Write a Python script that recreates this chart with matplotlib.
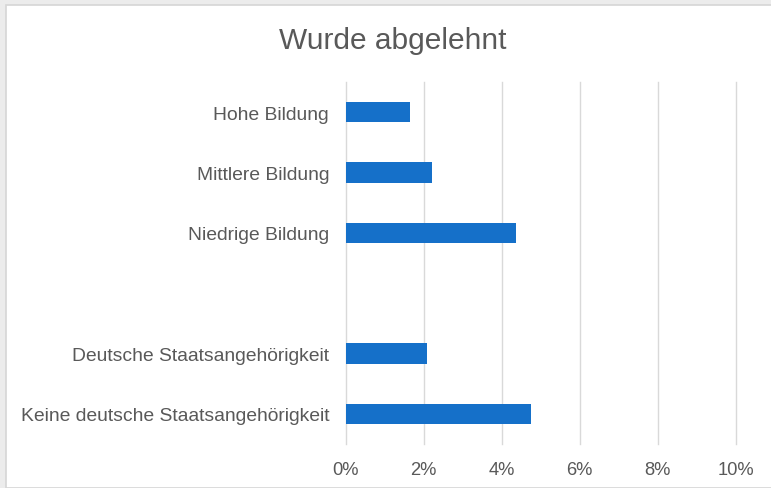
import matplotlib.pyplot as plt
import matplotlib.patches as patches
from matplotlib.ticker import FuncFormatter

plt.rcParams['font.family'] = ['Liberation Sans', 'DejaVu Sans']

# categories top to bottom, empty slot separates the two groups
categories = ['Hohe Bildung', 'Mittlere Bildung', 'Niedrige Bildung', '',
              'Deutsche Staatsangehörigkeit', 'Keine deutsche Staatsangehörigkeit']
values = [1.64, 2.21, 4.37, None, 2.08, 4.74]  # percent
xticks = [0, 2, 4, 6, 8, 10]

text_col = '#595959'
bar_col = '#1570c9'
grid_col = '#d9d9d9'

fig = plt.figure(figsize=(7.71, 4.89), dpi=100)
fig.patch.set_facecolor('#ececec')
# white card with thin border, like the screenshot
fig.patches.append(patches.Rectangle((6 / 771, 0), 1.0, 1 - 6 / 489, transform=fig.transFigure,
                                     facecolor='white', edgecolor='#d6d6d6', linewidth=1.2, zorder=-5))

ax = fig.add_axes([345.7 / 771, 44 / 489, 390 / 771, 362 / 489])
ax.set_facecolor('none')
ax.set_zorder(2)

ypos = list(range(len(categories)))
for y, v in zip(ypos, values):
    if v is not None:
        ax.barh(y, v, height=0.34, color=bar_col, zorder=3)

ax.set_xlim(0, 10)
ax.set_ylim(len(categories) - 0.5, -0.5)
ax.set_xticks(xticks)
ax.xaxis.set_major_formatter(FuncFormatter(lambda x, _: f'{x:.0f}%'))
ax.set_yticks(ypos)
ax.set_yticklabels(categories)
ax.grid(axis='x', color=grid_col, linewidth=1.0, zorder=0)
for gl in ax.get_xgridlines():
    gl.set_clip_on(False)
for s in ax.spines.values():
    s.set_visible(False)
ax.tick_params(axis='both', length=0, labelcolor=text_col)
ax.tick_params(axis='y', pad=12, labelsize=13.9)
ax.tick_params(axis='x', pad=12, labelsize=13.2)

fig.text(393 / 771, 1 - 41 / 489, 'Wurde abgelehnt', ha='center', va='center',
         fontsize=21.5, color=text_col, zorder=3)

fig.savefig('out.png', dpi=100, facecolor=fig.get_facecolor())
